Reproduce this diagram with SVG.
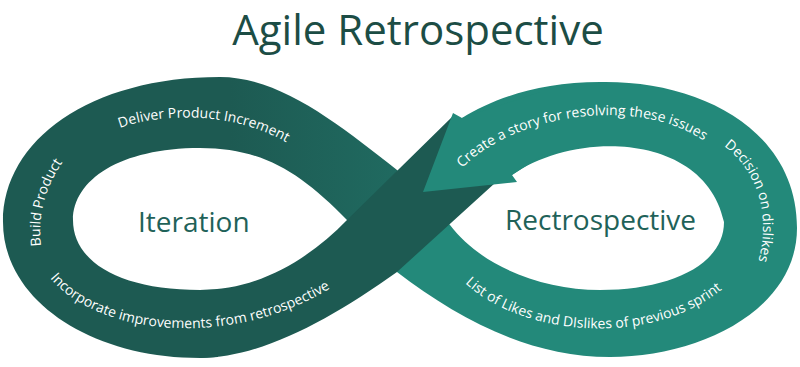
<svg xmlns="http://www.w3.org/2000/svg" width="800" height="367" viewBox="0 0 800 367">
<style>
  .lbl{font-family:"Open Sans","Liberation Sans",sans-serif;font-size:14px;fill:#ffffff}
  .big{font-family:"Open Sans","Liberation Sans",sans-serif;font-size:28px;fill:#1f6259}
  .title{font-family:"Open Sans","Liberation Sans",sans-serif;font-size:42px;fill:#1c4d45}
  .teal{fill:#23897a}
  .dark{fill:#1d5a52}
</style>
<defs>
  <linearGradient id="gl" gradientUnits="userSpaceOnUse" x1="230" y1="0" x2="410" y2="0">
    <stop offset="0" stop-color="#1d5a52"/>
    <stop offset="1" stop-color="#206b61"/>
  </linearGradient>
  <path id="p-deliver" d="M 120,128 C 160,113 245,108 305,155"/>
  <path id="p-build" d="M 41,246 C 37,212 47,180 72,150"/>
  <path id="p-incorp" d="M 50,278 C 100,338 240,350 340,282"/>
  <path id="p-create" d="M 462,168 C 520,110 650,95 712,147"/>
  <path id="p-decision" d="M 724,146 C 768,178 772,240 750,282"/>
  <path id="p-list" d="M 465,283 C 520,335 650,350 725,287"/>
</defs>
<rect width="800" height="367" fill="#ffffff"/>
<g id="title">
  <text class="title" x="418" y="45" text-anchor="middle">Agile Retrospective</text>
</g>
<g id="retrospective-loop">
  <path class="teal" d="M 397,272 C 460,320 530,357 610,357 C 700,357 797,310 797,228 C 797,130 700,80 600,82 C 540,82 495,98 462,118 L 512,175 C 575,130 705,132 724,222 C 724,265 670,290 600,290 C 540,290 480,265 450,225 L 430,205 L 385,262 Z"/>
</g>
<g id="iteration-loop">
  <path fill="url(#gl)" d="M 218,357 L 200,358 C 90,358 3,300 3,222 C 3,140 90,77 220,77 C 280,77 340,125 397,170 L 425,198 L 380,250 L 347,220 C 300,172 262,148 200,148 C 120,148 73,180 73,220 C 73,262 120,290 200,290 L 218,289.5 Z"/>
</g>
<g id="connectors">
  <path class="dark" d="M 200,290 C 260,290 310,258 347,220 L 453,116 L 505,176 L 495,183 L 397,272 C 330,320 260,358 200,358 Z"/>
  <path class="teal" d="M 462,118 L 453,113 L 423,192 L 517,182 L 512,175 L 540,157 L 540,92 Z"/>
</g>
<g id="iteration-labels">
  <text class="big" x="138" y="232">Iteration</text>
  <text class="lbl"><textPath href="#p-deliver">Deliver Product Increment</textPath></text>
  <text class="lbl"><textPath href="#p-build">Build Product</textPath></text>
  <text class="lbl"><textPath href="#p-incorp">Incorporate improvements from retrospective</textPath></text>
</g>
<g id="retrospective-labels">
  <text class="big" x="505" y="230">Rectrospective</text>
  <text class="lbl"><textPath href="#p-create">Create a story for resolving these issues</textPath></text>
  <text class="lbl"><textPath href="#p-decision">Decision on dislikes</textPath></text>
  <text class="lbl"><textPath href="#p-list">List of Likes and DIslikes of previous sprint</textPath></text>
</g>
</svg>
